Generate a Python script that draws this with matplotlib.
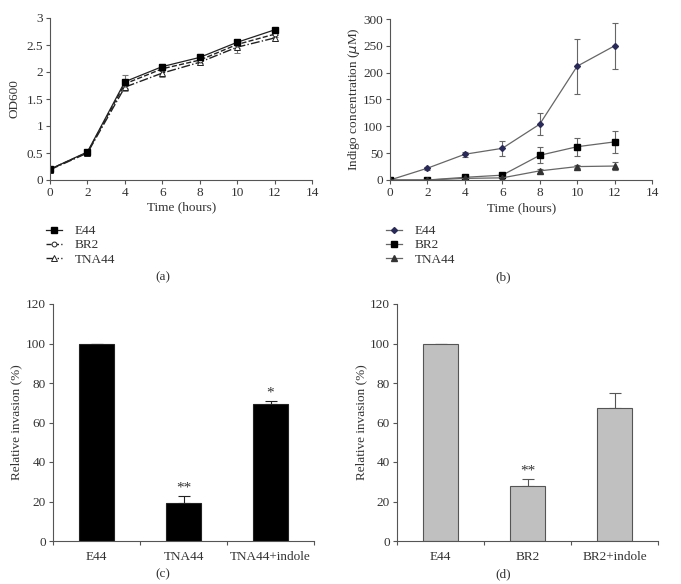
"""Growth, indigo production and invasion of E44 / BR2 / TNA44 strains."""
import matplotlib

matplotlib.use("Agg")
import matplotlib.pyplot as plt
from matplotlib.lines import Line2D

plt.rcParams["font.family"] = ["Liberation Serif", "DejaVu Serif"]
plt.rcParams["font.size"] = 9.5
plt.rcParams["text.color"] = "#333333"
plt.rcParams["axes.edgecolor"] = "#555555"
plt.rcParams["xtick.color"] = "#555555"
plt.rcParams["ytick.color"] = "#555555"
plt.rcParams["xtick.labelcolor"] = "#333333"
plt.rcParams["ytick.labelcolor"] = "#333333"

# (a) growth curves
time_h = [0, 2, 4, 6, 8, 10, 12]
od_e44 = [0.20, 0.52, 1.82, 2.10, 2.27, 2.55, 2.78]
od_e44_err = [0.02, 0.03, 0.13, 0.04, 0.07, 0.04, 0.03]
od_br2 = [0.20, 0.51, 1.78, 2.06, 2.22, 2.51, 2.70]
od_br2_err = [0.02, 0.03, 0.08, 0.05, 0.05, 0.06, 0.05]
od_tna44 = [0.19, 0.50, 1.72, 1.98, 2.18, 2.46, 2.63]
od_tna44_err = [0.02, 0.03, 0.08, 0.08, 0.05, 0.11, 0.06]

# (b) indigo concentration (uM)
ind_e44 = [0, 22, 48, 59, 104, 212, 250]
ind_e44_err = [1, 3, 5, 14, 20, 51, 43]
ind_br2 = [0, 0, 5, 9, 46, 62, 71]
ind_br2_err = [0, 0, 1, 2, 15, 17, 21]
ind_tna44 = [0, 0, 3, 4, 17, 25, 26]
ind_tna44_err = [0, 0, 1, 1, 4, 3, 7]

# (c) and (d) relative invasion (%)
cats_c = ["E44", "TNA44", "TNA44+indole"]
inv_c = [100, 19.3, 69.5]
inv_c_err = [0, 3.7, 1.5]
stars_c = ["", "**", "*"]

cats_d = ["E44", "BR2", "BR2+indole"]
inv_d = [100, 27.8, 67.3]
inv_d_err = [0, 3.8, 7.7]
stars_d = ["", "**", ""]

W, H = 681, 584
FS = 9.5


def box(left, top, right, bottom):
    return [left / W, 1 - bottom / H, (right - left) / W, (bottom - top) / H]


def style_axes(ax):
    for side in ("top", "right"):
        ax.spines[side].set_visible(False)
    for side in ("left", "bottom"):
        ax.spines[side].set_linewidth(0.8)
    ax.tick_params(direction="out", length=3, width=0.8, labelsize=FS, pad=2)


def fig_text(fig, x, y, s, **kw):
    fig.text(x / W, 1 - y / H, s, ha="center", va="center", **kw)


def add_legend(ax, handles, x, y):
    ax.legend(handles=handles, loc="upper left",
              bbox_to_anchor=(x / W, 1 - y / H), bbox_transform=fig.transFigure,
              frameon=False, fontsize=FS, handlelength=1.2, handletextpad=1.0,
              labelspacing=0.15, borderaxespad=0, borderpad=0)


fig = plt.figure(figsize=(W / 100, H / 100), dpi=100)

# ---- (a)
ax_a = fig.add_axes(box(50, 18, 312, 180))
err_kw = dict(ecolor="#777777", elinewidth=0.8, capsize=2.5, capthick=0.8)
style_a = {
    "E44": dict(color="#222222", lw=0.9, ls="-", marker="s", ms=4.5,
                mfc="black", mec="black"),
    "BR2": dict(color="#222222", lw=1.0, ls="--", marker="o", ms=3.5,
                mfc="white", mec="#222222", mew=0.7),
    "TNA44": dict(color="#222222", lw=1.0, ls="-.", marker="^", ms=4,
                  mfc="white", mec="#222222", mew=0.7),
}
ax_a.errorbar(time_h, od_tna44, yerr=od_tna44_err, **style_a["TNA44"], **err_kw)
ax_a.errorbar(time_h, od_br2, yerr=od_br2_err, **style_a["BR2"], **err_kw)
ax_a.errorbar(time_h, od_e44, yerr=od_e44_err, **style_a["E44"], **err_kw)
ax_a.set_xlim(0, 14)
ax_a.set_ylim(0, 3)
ax_a.set_xticks(range(0, 15, 2))
ax_a.set_yticks([0, 0.5, 1, 1.5, 2, 2.5, 3])
ax_a.set_yticklabels(["0", "0.5", "1", "1.5", "2", "2.5", "3"])
style_axes(ax_a)
add_legend(ax_a, [Line2D([], [], label=k, **v) for k, v in style_a.items()],
           46, 225)
fig_text(fig, 14, 99, "OD600", rotation=90, fontsize=FS)
fig_text(fig, 182, 207, "Time (hours)", fontsize=FS)
fig_text(fig, 163, 277, "(a)", fontsize=FS)

# ---- (b)
ax_b = fig.add_axes(box(390, 19, 652, 180))
err_kw_b = dict(ecolor="#666666", elinewidth=0.8, capsize=2.5, capthick=0.8)
style_b = {
    "E44": dict(color="#666666", lw=0.9, marker="D", ms=3,
                mfc="#2a2a5a", mec="#2a2a5a"),
    "BR2": dict(color="#666666", lw=0.9, marker="s", ms=4.5,
                mfc="black", mec="black"),
    "TNA44": dict(color="#666666", lw=0.9, marker="^", ms=4,
                  mfc="#333333", mec="#333333"),
}
ax_b.errorbar(time_h, ind_e44, yerr=ind_e44_err, **style_b["E44"], **err_kw_b)
ax_b.errorbar(time_h, ind_br2, yerr=ind_br2_err, **style_b["BR2"], **err_kw_b)
ax_b.errorbar(time_h, ind_tna44, yerr=ind_tna44_err, **style_b["TNA44"], **err_kw_b)
ax_b.set_xlim(0, 14)
ax_b.set_ylim(0, 300)
ax_b.set_xticks(range(0, 15, 2))
ax_b.set_yticks(range(0, 301, 50))
style_axes(ax_b)
add_legend(ax_b, [Line2D([], [], label=k, **v) for k, v in style_b.items()],
           386, 225)
fig_text(fig, 354, 99, "Indigo concentration ($\\mu$M)", rotation=90, fontsize=FS)
fig_text(fig, 522, 208, "Time (hours)", fontsize=FS)
fig_text(fig, 503, 277, "(b)", fontsize=FS)


# ---- (c) and (d)
def invasion_panel(rect, cats, vals, errs, stars, face, edge, ylab_x, tag_x, tag):
    ax = fig.add_axes(rect)
    pos = list(range(len(cats)))
    ax.bar(pos, vals, width=0.41, color=face, edgecolor=edge, linewidth=0.8,
           zorder=2)
    ax.errorbar(pos, vals, yerr=[[0] * len(errs), errs], fmt="none",
                ecolor=edge, elinewidth=0.8, capsize=4, capthick=0.8, zorder=1)
    for p, v, e, s in zip(pos, vals, errs, stars):
        if s:
            ax.text(p, v + e + 0.5, s, ha="center", va="bottom", fontsize=11)
    ax.set_xlim(-0.5, len(cats) - 0.5)
    ax.set_ylim(0, 120)
    ax.set_yticks(range(0, 121, 20))
    ax.set_xticks([p - 0.5 for p in pos] + [len(cats) - 0.5])
    ax.set_xticklabels([])
    ax.set_xticks(pos, minor=True)
    ax.set_xticklabels(cats, minor=True)
    style_axes(ax)
    ax.tick_params(axis="x", which="minor", length=0, pad=7)
    fig_text(fig, ylab_x, 422, "Relative invasion (%)", rotation=90, fontsize=FS)
    fig_text(fig, tag_x, 574, tag, fontsize=FS)
    return ax


invasion_panel(box(53, 304, 314, 541), cats_c, inv_c, inv_c_err, stars_c,
               "black", "#222222", 16, 163, "(c)")
invasion_panel(box(397, 304, 658, 541), cats_d, inv_d, inv_d_err, stars_d,
               "#c0c0c0", "#555555", 361, 503, "(d)")

fig.savefig("out.png", dpi=100)
